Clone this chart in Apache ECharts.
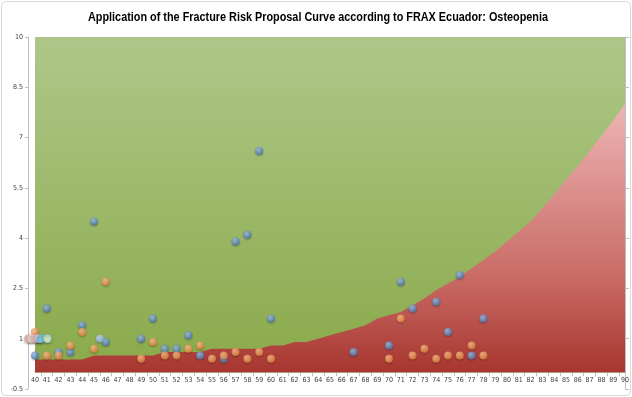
<!DOCTYPE html>
<html>
<head>
<meta charset="utf-8">
<script src="https://cdn.jsdelivr.net/npm/echarts@6/dist/echarts.min.js"></script>
<style>
  html, body { margin: 0; padding: 0; background: #fff; }
  #chart { width: 632px; height: 397px; }
</style>
</head>
<body>
<div id="chart"></div>
<script>
// Ages on the horizontal axis and the proposed risk curve at each age
const ages = [40,41,42,43,44,45,46,47,48,49,50,51,52,53,54,55,56,57,58,59,60,61,62,63,64,65,
  66,67,68,69,70,71,72,73,74,75,76,77,78,79,80,81,82,83,84,85,86,87,88,89,90];
const curve = [0.38,0.38,0.38,0.38,0.38,0.5,0.5,0.5,0.5,0.5,0.5,0.6,0.6,0.6,0.6,0.7,0.7,0.7,0.7,0.7,
  0.8,0.8,0.9,0.9,1.0,1.1,1.2,1.3,1.4,1.6,1.7,1.8,2.0,2.2,2.45,2.65,2.85,3.1,3.35,3.6,3.9,4.2,4.5,
  4.9,5.3,5.75,6.15,6.6,7.05,7.5,8.0];
const topValue = 10;

// Patient points: [age, risk]
const bluePoints = [[40,0.5],[41,1.9],[42,0.6],[43,0.6],[44,1.4],[45,4.5],[46,0.9],[49,1.0],[50,1.6],
  [51,0.7],[52,0.7],[53,1.1],[54,0.5],[56,0.4],[57,3.9],[58,4.1],[59,6.6],[60,1.6],[67,0.6],[70,0.8],
  [71,2.7],[72,1.9],[74,2.1],[75,1.2],[76,2.9],[77,0.5],[78,1.6]];
const lightBluePoints = [[45.5,1.0]];
const orangePoints = [[40,1.2],[41,0.5],[42,0.5],[43,0.8],[44,1.2],[45,0.7],[46,2.7],[49,0.4],[50,0.9],
  [51,0.5],[52,0.5],[53,0.7],[54,0.8],[55,0.4],[56,0.5],[57,0.6],[58,0.4],[59,0.6],[60,0.4],[70,0.4],
  [71,1.6],[72,0.5],[73,0.7],[74,0.4],[75,0.5],[76,0.5],[77,0.8],[78,0.5]];
const clusterPoints = [[39.45,1.0],[39.75,1.0],[40.05,1.0],[40.35,1.0],[40.5,1.0],[41.05,1.0]];

// Tick labels
const yMin = -0.5, yMax = 10, yStep = 1.5;

const titleText = 'Application of the Fracture Risk Proposal Curve according to FRAX Ecuador: Osteopenia';

const clusterFill = ['#f2c6b6','#fbe7e1','#f3c2ca','#f6dde4','#7ccde6','#eef6d2'];
const clusterEdge = ['#e9b7a6','#f0d6cf','#e8b2bb','#ead0d8','#62c0dc','#86d3e6'];

const font = "'DejaVu Sans Condensed', 'Liberation Sans', sans-serif";
const titleFont = "bold 12px 'Liberation Sans', Arial, sans-serif";

// narrow the title horizontally so it takes the width of a condensed face
const measure = document.createElement('canvas').getContext('2d');
measure.font = titleFont;
const titleScale = 460 / measure.measureText(titleText).width;

function ball(light, dark) {
  return {
    type: 'radial', x: 0.4, y: 0.35, r: 0.75,
    colorStops: [{ offset: 0, color: light }, { offset: 1, color: dark }]
  };
}
const dotShadow = { shadowBlur: 2, shadowOffsetY: 1, shadowColor: 'rgba(0,0,0,0.35)' };

const chart = echarts.init(document.getElementById('chart'), null, { renderer: 'canvas' });

chart.setOption({
  backgroundColor: '#fff',
  animation: false,
  graphic: [{
    type: 'rect', silent: true, z: -1,
    shape: { x: 1.5, y: 1.5, width: 629, height: 394, r: 4 },
    style: { fill: 'none', stroke: '#d9d9d9', lineWidth: 1 }
  }, {
    type: 'text', silent: true, z: 10,
    x: 318, y: 18, scaleX: titleScale,
    style: { text: titleText, font: titleFont, fill: '#000', align: 'center', verticalAlign: 'middle' }
  }],
  grid: { left: 35, right: 7, top: 37, bottom: 8, outerBoundsMode: 'none', containLabel: false },
  xAxis: {
    type: 'value', min: 40, max: 90, interval: 1,
    axisLine: { onZero: true, lineStyle: { color: '#bfbfbf' } },
    axisTick: { show: false },
    minorTick: { show: true, splitNumber: 2, length: 4, lineStyle: { color: '#bfbfbf' } },
    splitLine: { show: false },
    axisLabel: { fontFamily: font, fontSize: 7, color: '#404040', margin: -12 }
  },
  yAxis: [{
    type: 'value', min: yMin, max: yMax, interval: yStep, position: 'left', offset: 7,
    axisLine: { show: true, lineStyle: { color: '#bfbfbf' } },
    axisTick: { show: true, length: 3, lineStyle: { color: '#bfbfbf' } },
    splitLine: { show: false },
    axisLabel: { fontFamily: font, fontSize: 7, color: '#404040', margin: 5 }
  }, {
    type: 'value', min: yMin, max: yMax, interval: yStep, position: 'right',
    axisLine: { show: true, lineStyle: { color: '#bfbfbf' } },
    axisTick: { show: true, length: 4, lineStyle: { color: '#bfbfbf' } },
    splitLine: { show: false },
    axisLabel: { show: false }
  }],
  series: [
    {
      // upper (green) zone
      type: 'line', z: 1, symbol: 'none', silent: true,
      data: [[ages[0], topValue], [ages[ages.length - 1], topValue]],
      lineStyle: { width: 0 },
      areaStyle: {
        opacity: 1,
        color: { type: 'linear', x: 0, y: 0, x2: 0, y2: 1,
          colorStops: [{ offset: 0, color: '#aec789' }, { offset: 1, color: '#8aaa4a' }] }
      }
    },
    {
      // risk curve (red) zone
      type: 'line', z: 2, symbol: 'none', silent: true,
      data: ages.map((a, i) => [a, curve[i]]),
      lineStyle: { width: 0 },
      areaStyle: {
        opacity: 1,
        color: { type: 'linear', x: 0, y: 0, x2: 0, y2: 1,
          colorStops: [
            { offset: 0, color: '#edb5b4' },
            { offset: 0.65, color: '#c96a65' },
            { offset: 1, color: '#a7362f' }
          ] }
      }
    },
    {
      type: 'scatter', z: 3, symbolSize: 8, data: bluePoints, clip: false,
      itemStyle: Object.assign({ color: ball('#a2c1e8', '#3f6dab') }, dotShadow)
    },
    {
      type: 'scatter', z: 3, symbolSize: 8, data: lightBluePoints, clip: false,
      itemStyle: Object.assign({ color: ball('#c9ddf3', '#7ea9da') }, dotShadow)
    },
    {
      type: 'scatter', z: 4, symbolSize: 8, data: orangePoints, clip: false,
      itemStyle: Object.assign({ color: ball('#fcc596', '#e0762c') }, dotShadow)
    },
    {
      type: 'scatter', z: 5, symbolSize: 8, clip: false,
      data: clusterPoints.map((p, i) => ({
        value: p,
        itemStyle: { color: clusterFill[i], borderColor: clusterEdge[i], borderWidth: 1 }
      })),
      itemStyle: dotShadow
    }
  ]
});
</script>
</body>
</html>
